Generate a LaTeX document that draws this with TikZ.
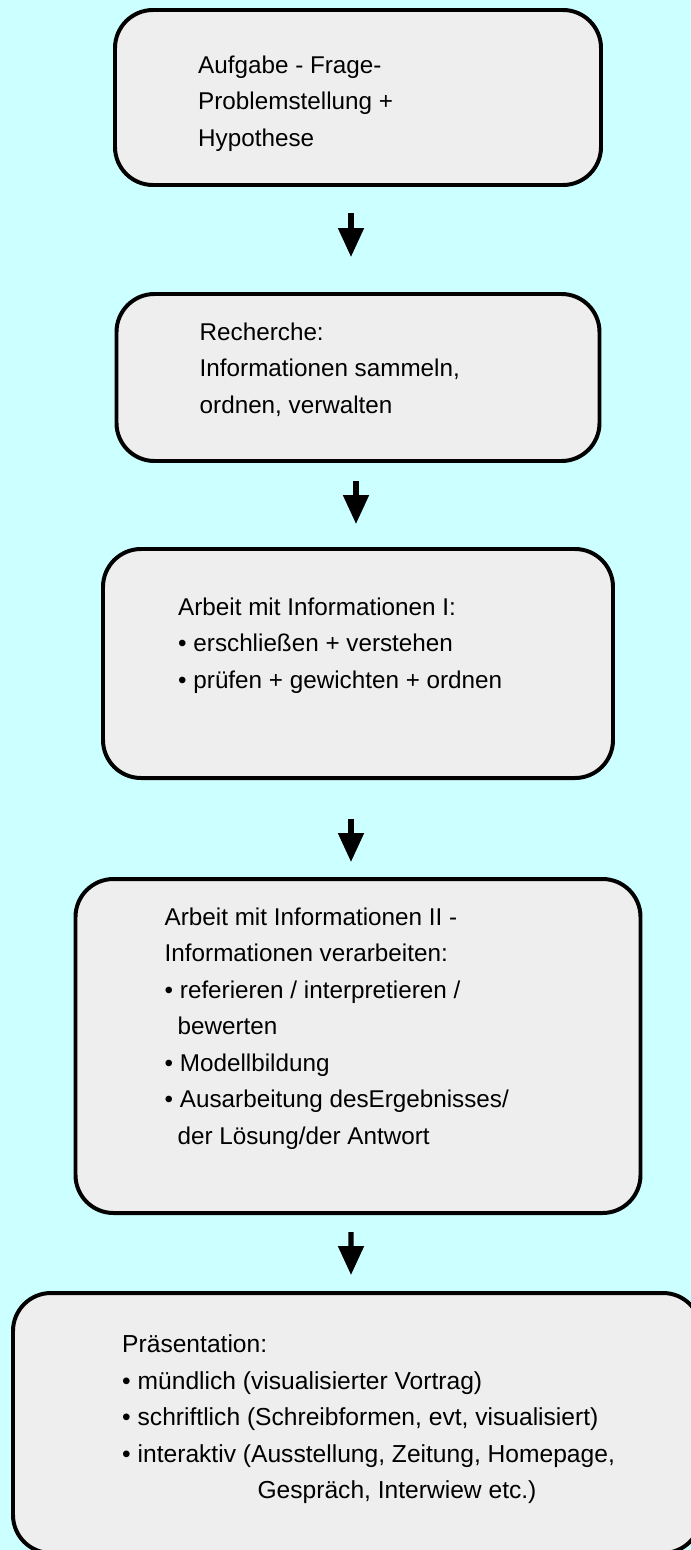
\documentclass[tikz,border=0pt]{standalone}
\usepackage{fontspec}
\setmainfont{Liberation Sans}
\usetikzlibrary{positioning,arrows.meta}
\definecolor{bgcyan}{RGB}{204,255,255}
\definecolor{boxgray}{RGB}{238,238,238}

\begin{document}
\begin{tikzpicture}
  [stepbox/.style={rectangle,rounded corners=1.14cm,draw,fill=boxgray,
                   line width=3.4pt,outer sep=0pt},
   boxtext/.style={align=left,inner sep=0pt,
                   font=\fontsize{20.7}{31.2}\selectfont},
   flowarrow/.style={line width=4.3pt,-{Triangle[length=0.87cm,width=0.75cm]}}]

  \fill[bgcyan] (0,0) rectangle (20.73,-46.5);
  \useasboundingbox (0,0) rectangle (20.73,-46.5);
  \clip (0,0) rectangle (20.73,-46.5);

  \node[stepbox,minimum width=14.58cm,minimum height=5.25cm] (a) at (10.74,-2.925) {};

  \node[stepbox,minimum width=14.49cm,minimum height=5.01cm] (b) [below=3.27cm of a] {};

  \node[stepbox,minimum width=15.3cm,minimum height=6.87cm] (c) [below=2.64cm of b] {};

  \node[stepbox,minimum width=16.95cm,minimum height=10.02cm] (d) [below=3.03cm of c] {};

  \node[stepbox,minimum width=20.64cm,minimum height=7.8cm] (e) [below=2.4cm of d,xshift=-0.03cm] {};

  \node[boxtext] (ta) [below right=1.36cm and 2.49cm of a.north west]
    {Aufgabe - Frage-\\Problemstellung +\\Hypothese};

  \node[boxtext] (tb) [below right=0.85cm and 2.49cm of b.north west]
    {Recherche:\\Informationen sammeln,\\ordnen, verwalten};

  \node[boxtext] (tc) [below right=1.45cm and 2.25cm of c.north west]
    {Arbeit mit Informationen I:\\• erschließen + verstehen\\• prüfen + gewichten + ordnen};

  \node[boxtext] (td) [below right=0.85cm and 2.67cm of d.north west]
    {Arbeit mit Informationen II -\\Informationen verarbeiten:\\• referieren / interpretieren /\\\hspace*{0.53em}bewerten\\• Modellbildung\\• Ausarbeitung desErgebnisses/\\\hspace*{0.53em}der Lösung/der Antwort};

  \node[boxtext,font=\fontsize{21}{31.2}\selectfont] (te) [below right=1.25cm and 3.27cm of e.north west]
    {Präsentation:\\• mündlich (visualisierter Vortrag)\\• schriftlich (Schreibformen, evt, visualisiert)\\• interaktiv (Ausstellung, Zeitung, Homepage,\\\hspace*{5.5em}Gespräch, Interwiew etc.)};

  \draw[flowarrow,shorten <=0.84cm,shorten >=1.11cm]
    ([xshift=-0.21cm]a.south) -- ([xshift=-0.21cm]b.north);
  \draw[flowarrow,shorten <=0.6cm,shorten >=0.75cm]
    ([xshift=-0.06cm]b.south) -- ([xshift=-0.06cm]c.north);
  \draw[flowarrow,shorten <=1.23cm,shorten >=0.51cm]
    ([xshift=-0.21cm]c.south) -- ([xshift=-0.21cm]d.north);
  \draw[flowarrow,shorten <=0.57cm,shorten >=0.54cm]
    ([xshift=-0.21cm]d.south) -- ([xshift=-0.18cm]e.north);

\end{tikzpicture}
\end{document}
